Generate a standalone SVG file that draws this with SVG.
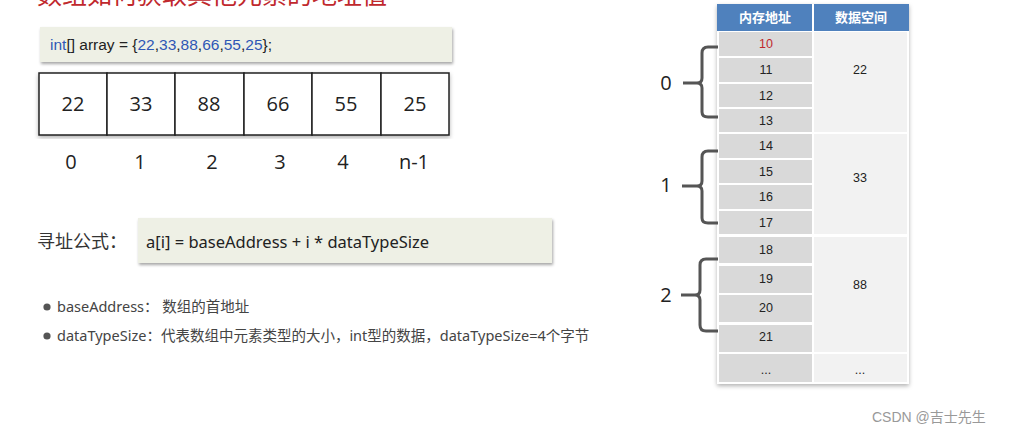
<svg xmlns="http://www.w3.org/2000/svg" width="1024" height="435" viewBox="0 0 1024 435">
<defs>
<filter id="sh" x="-5%" y="-20%" width="110%" height="150%"><feDropShadow dx="1" dy="2" stdDeviation="1.5" flood-color="#000" flood-opacity="0.35"/></filter>
<filter id="sh2" x="-5%" y="-5%" width="110%" height="110%"><feDropShadow dx="0" dy="2" stdDeviation="2" flood-color="#000" flood-opacity="0.3"/></filter>
<style>
.cjk{font-family:"Noto Sans","Noto Sans CJK SC",sans-serif}
.box{fill:#eef0e5}
.cell{fill:#fff;stroke:#222;stroke-width:1.5}
.num{font-family:"Open Sans","Noto Sans",sans-serif;font-size:20px;fill:#222;text-anchor:middle}
.idx{font-family:"Open Sans","Noto Sans",sans-serif;font-size:20px;fill:#222;text-anchor:middle}
.addr{fill:#d9d9d9}
.data{fill:#f2f2f2}
.tt{font-family:"Liberation Sans","Noto Sans CJK SC",sans-serif;font-size:12.5px;fill:#222;text-anchor:middle}
.brace{fill:none;stroke:#555;stroke-width:3}
.blab{font-family:"Open Sans","Noto Sans",sans-serif;font-size:20px;fill:#222;text-anchor:middle}
.blue{fill:#2f57b5}
</style>
</defs>
<rect width="1024" height="435" fill="#fff"/>
<text x="37" y="4" font-family="Noto Sans CJK SC,sans-serif" font-size="25" fill="#c0282d">数组如何获取其他元素的地址值</text>

<g id="code">
<rect class="box" x="40" y="27" width="412" height="35" filter="url(#sh)"/>
<text x="50" y="50" font-family="Liberation Sans,sans-serif" font-size="15.5" fill="#222"><tspan class="blue">int</tspan>[] array = {<tspan class="blue">22</tspan>,<tspan class="blue">33</tspan>,<tspan class="blue">88</tspan>,<tspan class="blue">66</tspan>,<tspan class="blue">55</tspan>,<tspan class="blue">25</tspan>};</text>
</g>

<g id="array" filter="url(#sh2)">
<rect class="cell" x="39" y="73" width="68" height="62"/>
<rect class="cell" x="107" y="73" width="68" height="62"/>
<rect class="cell" x="175" y="73" width="69" height="62"/>
<rect class="cell" x="244" y="73" width="68" height="62"/>
<rect class="cell" x="312" y="73" width="69" height="62"/>
<rect class="cell" x="381" y="73" width="68" height="62"/>
</g>
<g id="array-values">
<text class="num" x="73" y="111">22</text>
<text class="num" x="141" y="111">33</text>
<text class="num" x="209" y="111">88</text>
<text class="num" x="278" y="111">66</text>
<text class="num" x="346" y="111">55</text>
<text class="num" x="415" y="111">25</text>
</g>
<g id="indices">
<text class="idx" x="71" y="169">0</text>
<text class="idx" x="140" y="169">1</text>
<text class="idx" x="212" y="169">2</text>
<text class="idx" x="280" y="169">3</text>
<text class="idx" x="343" y="169">4</text>
<text class="idx" x="414" y="169">n-1</text>
</g>

<g id="formula">
<text x="37" y="248" class="cjk" font-size="18" fill="#333">寻址公式：</text>
<rect class="box" x="138" y="218" width="414" height="45" filter="url(#sh)"/>
<text x="146" y="248" font-family="Noto Sans,sans-serif" font-size="16.5" fill="#222">a[i] = baseAddress + i * dataTypeSize</text>
</g>

<g id="notes" class="cjk" font-size="14.5" fill="#444">
<circle cx="47" cy="307" r="3.6" fill="#555"/>
<text x="57" y="312">baseAddress：  数组的首地址</text>
<circle cx="47" cy="336" r="3.6" fill="#555"/>
<text x="57" y="341">dataTypeSize：代表数组中元素类型的大小，int型的数据，dataTypeSize=4个字节</text>
</g>

<g id="table">
<rect x="717" y="4" width="192" height="380" fill="#fff" filter="url(#sh2)"/>
<rect x="717" y="4" width="95" height="27" fill="#4f81bd"/>
<rect x="814" y="4" width="95" height="27" fill="#4f81bd"/>
<text x="765" y="22" class="tt" style="fill:#fff;font-weight:bold;font-size:13px">内存地址</text>
<text x="861" y="22" class="tt" style="fill:#fff;font-weight:bold;font-size:13px">数据空间</text>
<rect class="addr" x="719" y="32" width="93" height="24"/>
<rect class="addr" x="719" y="58" width="93" height="24"/>
<rect class="addr" x="719" y="84" width="93" height="23"/>
<rect class="addr" x="719" y="109" width="93" height="23"/>
<rect class="addr" x="719" y="134" width="93" height="24"/>
<rect class="addr" x="719" y="160" width="93" height="23"/>
<rect class="addr" x="719" y="185" width="93" height="24"/>
<rect class="addr" x="719" y="211" width="93" height="23"/>
<rect class="addr" x="719" y="237" width="93" height="26"/>
<rect class="addr" x="719" y="266" width="93" height="27"/>
<rect class="addr" x="719" y="295" width="93" height="27"/>
<rect class="addr" x="719" y="325" width="93" height="27"/>
<rect class="addr" x="719" y="354" width="93" height="28"/>
<rect class="data" x="814" y="32" width="93" height="100"/>
<rect class="data" x="814" y="134" width="93" height="100"/>
<rect class="data" x="814" y="237" width="93" height="115"/>
<rect class="data" x="814" y="354" width="93" height="28"/>
<text class="tt" x="766" y="48" style="fill:#c0282d">10</text>
<text class="tt" x="766" y="74">11</text>
<text class="tt" x="766" y="100">12</text>
<text class="tt" x="766" y="125">13</text>
<text class="tt" x="766" y="150">14</text>
<text class="tt" x="766" y="176">15</text>
<text class="tt" x="766" y="201">16</text>
<text class="tt" x="766" y="227">17</text>
<text class="tt" x="766" y="254">18</text>
<text class="tt" x="766" y="283">19</text>
<text class="tt" x="766" y="312">20</text>
<text class="tt" x="766" y="341">21</text>
<text class="tt" x="766" y="374">...</text>
<text class="tt" x="860" y="74">22</text>
<text class="tt" x="860" y="182">33</text>
<text class="tt" x="860" y="289">88</text>
<text class="tt" x="860" y="374">...</text>
</g>

<g id="connectors">
<path class="brace" d="M718,47 H708 Q702,47 702,53 V78 Q702,83 697,83 H683 M697,83 Q702,83 702,88 V112 Q702,117 708,117 H718"/>
<path class="brace" d="M718,151 H708 Q702,151 702,157 V181 Q702,186 697,186 H682 M697,186 Q702,186 702,191 V218 Q702,223 708,223 H718"/>
<path class="brace" d="M718,259 H706 Q700,259 700,265 V290 Q700,295 695,295 H681 M695,295 Q700,295 700,300 V325 Q700,331 706,331 H718"/>
</g>
<g id="brace-labels">
<text class="blab" x="666" y="90">0</text>
<text class="blab" x="666" y="192">1</text>
<text class="blab" x="666" y="302">2</text>
</g>

<text x="872" y="422" font-family="Liberation Sans,Noto Sans CJK SC,sans-serif" font-size="14" fill="#999">CSDN @吉士先生</text>
</svg>
